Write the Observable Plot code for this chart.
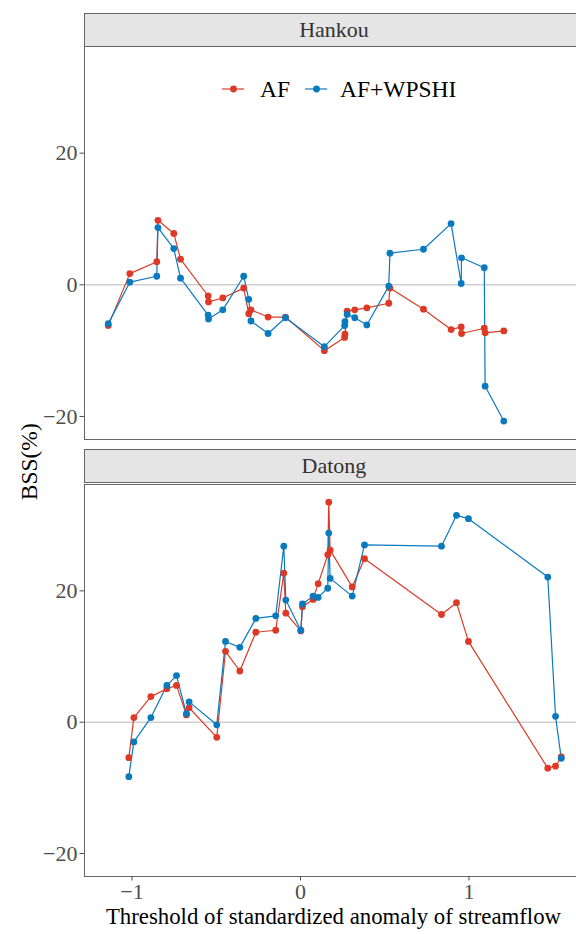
<!DOCTYPE html>
<html><head><meta charset="utf-8">
<script src="https://cdn.jsdelivr.net/npm/d3@7"></script>
<script src="https://cdn.jsdelivr.net/npm/@observablehq/plot@0.6"></script>
<style>
html,body{margin:0;padding:0;background:#fff;overflow:hidden}
#root{position:relative;width:576px;height:934px;overflow:hidden;font-family:"Liberation Serif","Times New Roman",serif}
.strip{position:absolute;left:84px;width:500px;height:34px;box-sizing:border-box;background:#e5e5e5;border:1px solid #666;
  display:flex;align-items:center;justify-content:center;font-size:22px;color:#333;line-height:1}
.plotbox{position:absolute;left:0;width:584px}
.plotbox svg{max-width:none !important}
.legend{position:absolute;font-size:23.5px;color:#000;line-height:1}
.legend > *{position:absolute}
.xtitle{position:absolute;left:84px;width:499px;text-align:center;font-size:22.8px;color:#000;line-height:1}
.ytitle{position:absolute;font-size:23.5px;color:#000;line-height:1;white-space:nowrap;transform-origin:center;}
</style>
</head><body>
<div id="root">
  <div class="strip" style="top:12.5px">Hankou</div>
  <div class="strip" style="top:449px">Datong</div>
  <div id="p1" class="plotbox" style="top:45px"></div>
  <div id="p2" class="plotbox" style="top:483px"></div>
  <div id="legend" class="legend" style="left:0;top:0"></div>
  <div class="xtitle" style="top:906px">Threshold of standardized anomaly of streamflow</div>
  <div id="ytitle" class="ytitle">BSS(%)</div>
</div>
<script>
// ---- data ----
const seriesNames = ["AF", "AF+WPSHI"];
const seriesColors = ["#DC3A26", "#0A7ABF"];
const panelNames = ["Hankou", "Datong"];

const hankouX = [-1.141, -1.013, -0.853, -0.846, -0.752, -0.712, -0.548, -0.546, -0.461, -0.337, -0.307, -0.294, -0.192, -0.089, 0.142, 0.262, 0.264, 0.277, 0.322, 0.394, 0.524, 0.531, 0.730, 0.894, 0.954, 0.956, 1.091, 1.096, 1.207];
const hankouAF = [-6.2, 1.7, 3.5, 9.8, 7.8, 3.9, -1.7, -2.6, -2.0, -0.5, -4.4, -3.8, -4.9, -4.9, -10.0, -8.0, -7.5, -4.0, -3.8, -3.5, -2.8, -0.5, -3.7, -6.8, -6.4, -7.4, -6.6, -7.3, -7.0];
const hankouWPSHI = [-5.9, 0.4, 1.3, 8.7, 5.5, 1.0, -4.6, -5.2, -3.8, 1.3, -2.2, -5.5, -7.4, -5.0, -9.4, -6.2, -5.6, -4.5, -5.0, -6.1, -0.2, 4.8, 5.4, 9.3, 0.2, 4.1, 2.6, -15.4, -20.7];

const datongX = [-1.019, -0.989, -0.888, -0.793, -0.736, -0.677, -0.661, -0.497, -0.445, -0.360, -0.265, -0.147, -0.099, -0.087, 0.002, 0.012, 0.075, 0.105, 0.162, 0.168, 0.176, 0.307, 0.380, 0.837, 0.926, 0.997, 1.468, 1.514, 1.548];
const datongAF = [-5.4, 0.7, 3.9, 5.1, 5.6, 1.1, 2.2, -2.3, 10.8, 7.8, 13.7, 14.0, 22.7, 16.6, 13.9, 17.6, 18.7, 21.1, 25.5, 33.5, 26.2, 20.6, 24.9, 16.4, 18.2, 12.3, -7.0, -6.7, -5.3];
const datongWPSHI = [-8.3, -3.0, 0.7, 5.6, 7.1, 1.3, 3.1, -0.4, 12.3, 11.4, 15.8, 16.2, 26.8, 18.6, 14.0, 18.0, 19.2, 19.0, 20.4, 28.8, 21.9, 19.2, 27.0, 26.8, 31.5, 31.0, 22.1, 0.9, -5.5];

const xTicks = [-1, 0, 1];
const yTicks = [-20, 0, 20];
const xDomain = [-1.282, 1.680];
const yDomain = [-23.5, 36.2];

const FONT = '"Liberation Serif","Times New Roman",serif';
const fmt = d => (d < 0 ? "\u2212" : "") + Math.abs(d);

function rows(xs, a, b) {
  const out = [];
  xs.forEach((x, i) => out.push({x, y: a[i], s: seriesNames[0]}));
  xs.forEach((x, i) => out.push({x, y: b[i], s: seriesNames[1]}));
  return out;
}

function panel(data, panelH, marginBottom, showX) {
  const marks = [
    Plot.ruleY([0], {stroke: "#cfcfcf", strokeWidth: 1.5}),
    Plot.line(data, {x: "x", y: "y", z: "s", stroke: "s", strokeWidth: 1.2}),
    Plot.dot(data, {x: "x", y: "y", fill: "s", r: 3.4}),
    Plot.frame({stroke: "#666", strokeWidth: 1}),
    Plot.axisY({ticks: yTicks, tickFormat: fmt, tickSize: 4.5, tickPadding: 2.5, label: null, fontSize: 22, fontFamily: FONT, fill: "#4d4d4d", stroke: "#4d4d4d"})
  ];
  if (showX) marks.push(Plot.axisX({ticks: xTicks, tickFormat: fmt, tickSize: 4.5, tickPadding: 2, label: null, fontSize: 22, fontFamily: FONT, fill: "#4d4d4d", stroke: "#4d4d4d"}));
  return Plot.plot({
    width: 584,
    height: 1 + panelH + marginBottom,
    marginLeft: 84, marginRight: 1, marginTop: 1, marginBottom,
    x: {domain: xDomain, axis: showX ? undefined : null},
    y: {domain: yDomain},
    color: {domain: seriesNames, range: seriesColors},
    style: {fontFamily: FONT, color: "#4d4d4d", background: "transparent", overflow: "visible", maxWidth: "none"},
    marks
  });
}

document.getElementById("p1").appendChild(panel(rows(hankouX, hankouAF, hankouWPSHI), 393, 1, false));
document.getElementById("p2").appendChild(panel(rows(datongX, datongAF, datongWPSHI), 392, 58, true));
document.querySelectorAll("svg text").forEach(t => t.setAttribute("font-family", FONT));

// legend (HTML)
const lg = document.getElementById("legend");
const items = [{x: 222, tx: 260}, {x: 305, tx: 340}];
seriesNames.forEach((name, i) => {
  const sw = document.createElementNS("http://www.w3.org/2000/svg", "svg");
  sw.setAttribute("width", 22); sw.setAttribute("height", 12);
  sw.style.left = items[i].x + "px"; sw.style.top = "83px";
  sw.innerHTML = `<line x1="0" x2="22" y1="6" y2="6" stroke="${seriesColors[i]}" stroke-width="1.2"/><circle cx="11.5" cy="6" r="3.4" fill="${seriesColors[i]}"/>`;
  lg.appendChild(sw);
  const t = document.createElement("span");
  t.textContent = name;
  t.style.left = items[i].tx + "px"; t.style.top = "78px";
  lg.appendChild(t);
});

// y title centred between panels
const yt = document.getElementById("ytitle");
const w = yt.offsetWidth, h = yt.offsetHeight;
yt.style.left = (29 - w / 2) + "px";
yt.style.top = (461.5 - h / 2) + "px";
yt.style.transform = "rotate(-90deg)";
</script>
</body></html>
